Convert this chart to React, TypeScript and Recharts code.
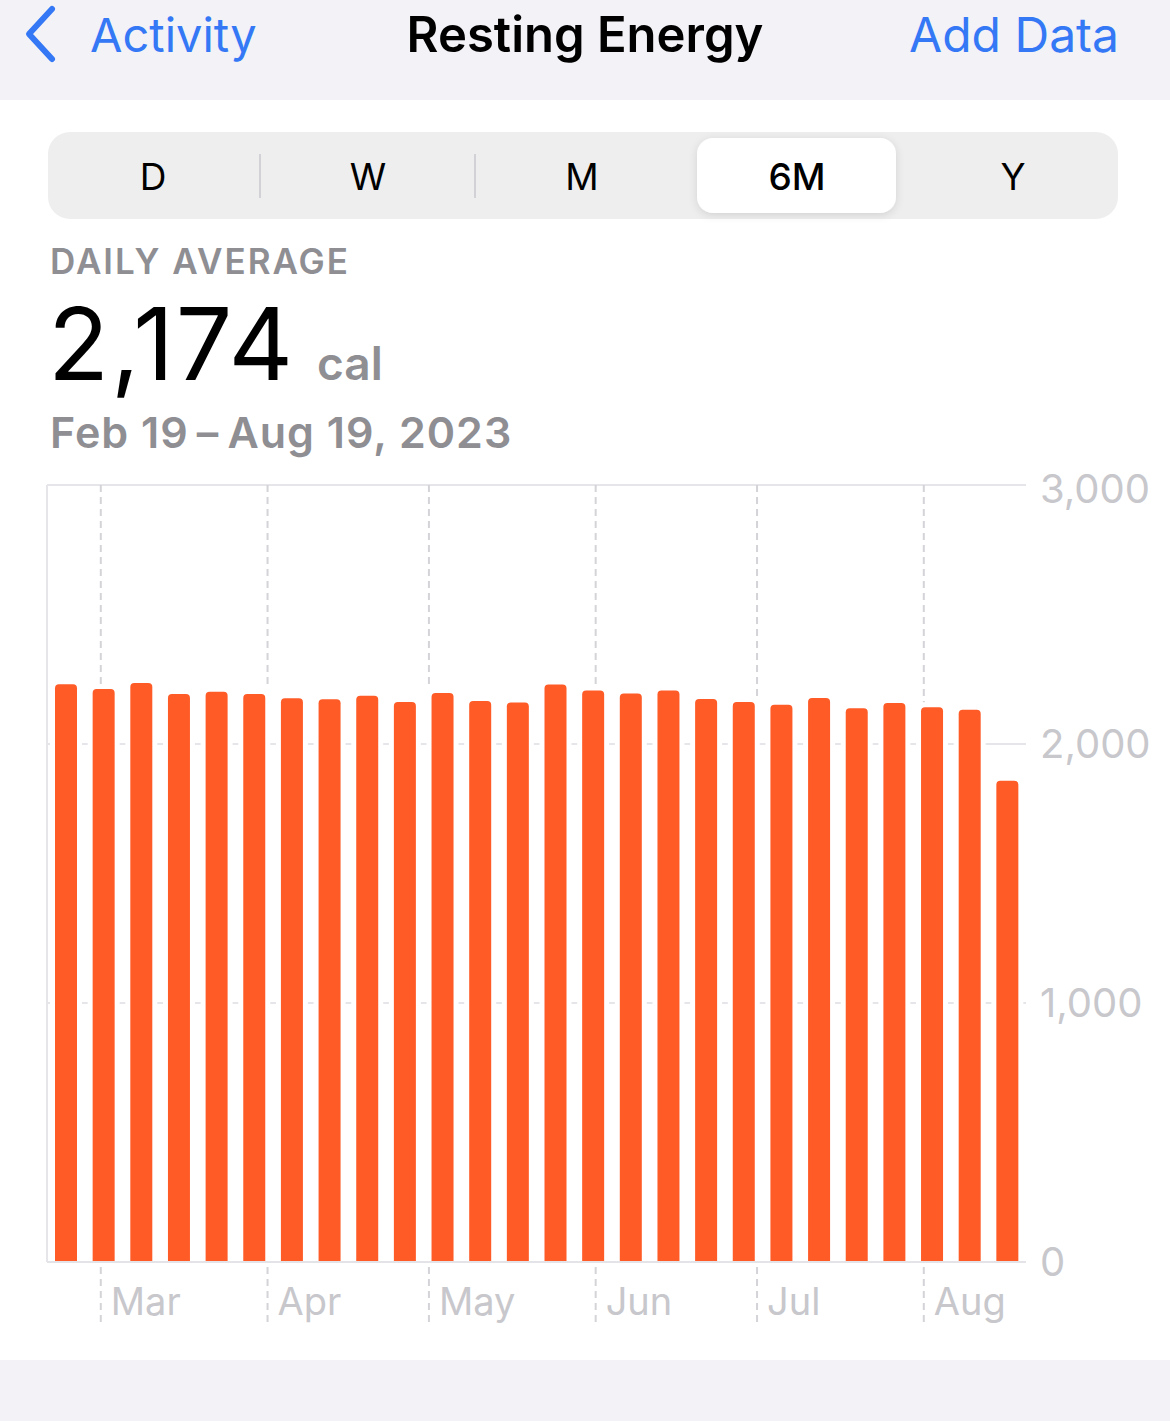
import React from 'react';
import { BarChart, Bar, XAxis, YAxis, CartesianGrid, ReferenceLine } from 'recharts';

// weekly buckets, Feb 19 - Aug 19 2023
const weeks = [
  'Feb 19', 'Feb 26', 'Mar 5', 'Mar 12', 'Mar 19', 'Mar 26', 'Apr 2', 'Apr 9', 'Apr 16',
  'Apr 23', 'Apr 30', 'May 7', 'May 14', 'May 21', 'May 28', 'Jun 4', 'Jun 11', 'Jun 18',
  'Jun 25', 'Jul 2', 'Jul 9', 'Jul 16', 'Jul 23', 'Jul 30', 'Aug 6', 'Aug 13',
];
const restingCal = [
  2231, 2212, 2236, 2193, 2202, 2193, 2177, 2173, 2186, 2162, 2197, 2166, 2160,
  2230, 2207, 2195, 2207, 2174, 2162, 2152, 2178, 2138, 2158, 2142, 2132, 1858,
];
// day offsets from Feb 19 where each month starts
const monthDays = [10, 41, 71, 102, 132, 163];
const monthLabels = ['Mar', 'Apr', 'May', 'Jun', 'Jul', 'Aug'];
const yTicks = [0, 1000, 2000, 3000];
const segments = ['D', 'W', 'M', '6M', 'Y'];

// each week sits in the middle of its 7 days
const data = weeks.map((w, i) => ({ week: w, day: i * 7 + 3.5, cal: restingCal[i] }));

const FONT = 'Inter, "Noto Sans", sans-serif';
const ORANGE = '#ff5b27';
const GRAY = '#8e8e93';
const LIGHT = '#c7c7cc';
const BLUE = '#3478f6';

const BarShape = (props: any) => {
  const { x, y, width, height } = props;
  const r = 4;
  const d = `M${x},${y + height} L${x},${y + r} Q${x},${y} ${x + r},${y} L${x + width - r},${y} Q${x + width},${y} ${x + width},${y + r} L${x + width},${y + height} Z`;
  return (
    <g>
      <rect x={x - 5} y={y - 5} width={width + 10} height={height + 5} fill="#fff" />
      <path d={d} fill={ORANGE} />
    </g>
  );
};

const MonthTick = (props: any) => {
  const { x, y, payload } = props;
  const label = monthLabels[monthDays.indexOf(payload.value)];
  return (
    <g>
      <line x1={x} x2={x} y1={y + 5} y2={y + 62} stroke="#d4d4d8" strokeWidth={2} strokeDasharray="7 5" />
      <text x={x + 10} y={y + 53} fill={LIGHT} fontSize={38} fontFamily={FONT}>{label}</text>
    </g>
  );
};

const segX = [153, 368, 582, 797, 1013];

const Header = () => (
  <svg width={1170} height={465} style={{ position: 'absolute', left: 0, top: 0 }}>
    <rect x={0} y={0} width={1170} height={100} fill="#f2f2f7" />
    <polyline points="52,9 29,34 52,59" fill="none" stroke={BLUE} strokeWidth={6} strokeLinecap="round" strokeLinejoin="round" />
    <text x={90} y={52} fill={BLUE} fontSize={47} fontFamily={FONT}>Activity</text>
    <text x={585} y={52} textAnchor="middle" fill="#000" fontSize={49} fontWeight={600} fontFamily={FONT}>Resting Energy</text>
    <text x={1119} y={52} textAnchor="end" fill={BLUE} fontSize={48} fontFamily={FONT}>Add Data</text>

    <defs>
      <filter id="pillShadow" x="-20%" y="-40%" width="140%" height="180%">
        <feDropShadow dx={0} dy={2} stdDeviation={4} floodColor="#000" floodOpacity={0.12} />
      </filter>
    </defs>
    <rect x={48} y={132} width={1070} height={87} rx={22} fill="#eeeeef" />
    <rect x={697} y={138} width={199} height={75} rx={16} fill="#fff" filter="url(#pillShadow)" />
    <line x1={260} x2={260} y1={154} y2={198} stroke="#d1d1d6" strokeWidth={2} />
    <line x1={475} x2={475} y1={154} y2={198} stroke="#d1d1d6" strokeWidth={2} />
    {segments.map((s, i) => (
      <text key={s} x={segX[i]} y={190} textAnchor="middle" fill="#000" fontSize={37} fontWeight={s === '6M' ? 500 : 400} fontFamily={FONT}>{s}</text>
    ))}

    <text x={50} y={274} fill={GRAY} fontSize={35} fontWeight={600} letterSpacing={2} fontFamily={FONT}>DAILY AVERAGE</text>
    <text x={48} y={380} fill="#000" fontSize={100} fontWeight={400} letterSpacing={2} fontFamily={FONT}>2,174</text>
    <text x={317} y={380} fill={GRAY} fontSize={46} fontWeight={600} fontFamily={FONT}>cal</text>
    <text x={50} y={448} fill={GRAY} fontSize={43} fontWeight={600} letterSpacing={1} fontFamily={FONT}>Feb 19{'\u2009'}–{'\u2009'}Aug 19, 2023</text>
  </svg>
);

export default function App() {
  return (
    <div style={{ position: 'absolute', left: 0, top: 0, width: 1170, height: 1421, background: '#fff', overflow: 'hidden' }}>
      <Header />
      <div style={{ position: 'absolute', left: 0, top: 465 }}>
        <BarChart width={1170} height={867} data={data} margin={{ top: 20, right: 0, left: 47, bottom: 0 }}>
          <CartesianGrid vertical={false} stroke="#e5e5ea" strokeWidth={2} />
          <CartesianGrid horizontal={false} verticalValues={monthDays} stroke="#d4d4d8" strokeWidth={2} strokeDasharray="7 5" />
          <XAxis
            dataKey="day"
            type="number"
            domain={[0, 182]}
            allowDataOverflow
            ticks={monthDays}
            interval={0}
            height={70}
            tickSize={0}
            tickMargin={0}
            tickLine={false}
            axisLine={{ stroke: '#e3e3e8', strokeWidth: 2 }}
            tick={<MonthTick />}
          />
          <YAxis
            orientation="right"
            domain={[0, 3000]}
            ticks={yTicks}
            width={144}
            axisLine={false}
            tickLine={false}
            tickSize={0}
            tickMargin={14}
            tick={{ fill: LIGHT, fontSize: 40, fontFamily: FONT }}
            tickFormatter={(v: number) => v.toLocaleString('en-US')}
          />
          <ReferenceLine x={0} stroke="#e5e5ea" strokeWidth={2} />
          <Bar dataKey="cal" barSize={22} shape={<BarShape />} isAnimationActive={false} />
        </BarChart>
      </div>
      <div style={{ position: 'absolute', left: 0, top: 1360, width: 1170, height: 61, background: '#f2f2f7' }} />
    </div>
  );
}
